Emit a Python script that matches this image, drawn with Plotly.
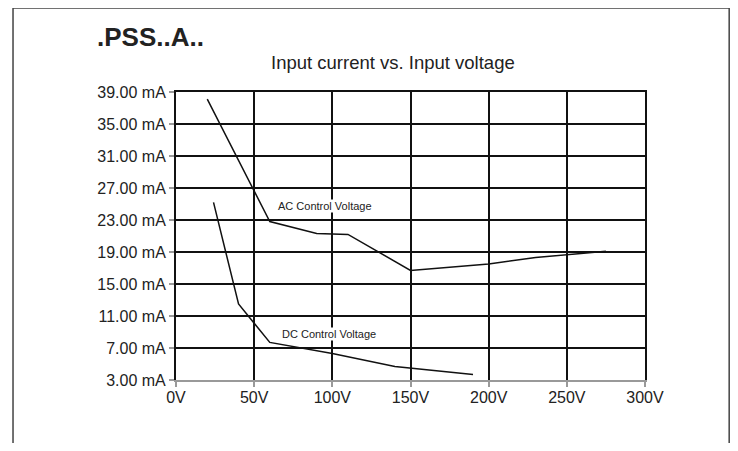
import plotly.graph_objects as go

# AC Control Voltage curve (input voltage V, input current mA)
ac_voltage = [20, 60, 90, 110, 150, 200, 230, 275]
ac_current = [38.1, 22.8, 21.3, 21.2, 16.7, 17.5, 18.3, 19.1]

# DC Control Voltage curve
dc_voltage = [24, 40, 60, 100, 140, 190]
dc_current = [25.2, 12.5, 7.7, 6.3, 4.7, 3.7]

y_ticks = [3, 7, 11, 15, 19, 23, 27, 31, 35, 39]
x_ticks = [0, 50, 100, 150, 200, 250, 300]

title_text = ".PSS..A.."
subtitle_text = "Input current vs. Input voltage"
labels = [("AC Control Voltage", 95, 24.8), ("DC Control Voltage", 98, 8.8)]

REG = "Liberation Sans, Arial, sans-serif"

fig = go.Figure()
fig.add_trace(go.Scatter(x=ac_voltage, y=ac_current, mode="lines",
                         line=dict(color="#111", width=1.5), showlegend=False))
fig.add_trace(go.Scatter(x=dc_voltage, y=dc_current, mode="lines",
                         line=dict(color="#111", width=1.5), showlegend=False))
# invisible trace on the top axis so its frame line is drawn
fig.add_trace(go.Scatter(x=[x_ticks[0], x_ticks[-1]], y=[y_ticks[0], y_ticks[0]], xaxis="x2",
                         mode="lines", line=dict(width=0), hoverinfo="skip", showlegend=False))

for txt, xv, yv in labels:
    fig.add_annotation(x=xv, y=yv, text=txt, showarrow=False,
                       font=dict(family=REG, size=11, color="#222"),
                       bgcolor="white", borderpad=0)

fig.add_annotation(x=0.4627, y=1.104, xref="paper", yref="paper", text=subtitle_text,
                   showarrow=False, xanchor="center", yanchor="middle",
                   font=dict(family=REG, size=18.5, color="#222"))

# outer frame
fig.add_shape(type="rect", xref="paper", yref="paper",
              x0=-0.3475, x1=1.1795, y0=-0.30, y1=1.2917,
              line=dict(color="#444", width=1.5), fillcolor="rgba(0,0,0,0)", layer="below")

fig.update_layout(
    width=722, height=435,
    margin=dict(l=168, r=85, t=84, b=63),
    paper_bgcolor="white", plot_bgcolor="white",
    title=dict(text="<b>" + title_text + "</b>", x=89 / 722, xanchor="left", xref="container",
               y=1 - 29 / 435, yanchor="middle", yref="container",
               font=dict(family=REG, size=26, color="#222")),
    xaxis=dict(range=[0, 300], tickvals=x_ticks, ticktext=[f"{v}V" for v in x_ticks],
               showgrid=True, gridcolor="#111", gridwidth=2, zeroline=False,
               showline=True, linecolor="#999", linewidth=2,
               ticks="outside", ticklen=5, tickcolor="#999", tickwidth=1.5,
               ticklabelstandoff=-3,
               tickfont=dict(family=REG, size=16, color="#222")),
    xaxis2=dict(range=[0, 300], overlaying="x", side="top", showgrid=False, zeroline=False,
                showline=True, linecolor="#111", linewidth=2, showticklabels=False, ticks=""),
    yaxis=dict(range=[3, 39], tickvals=y_ticks, ticktext=[f"{v:.2f} mA" for v in y_ticks],
               showgrid=True, gridcolor="#111", gridwidth=2, zeroline=False,
               showline=True, linecolor="#111", linewidth=2, mirror=True,
               ticks="outside", ticklen=5, tickcolor="#999", tickwidth=1.5,
               tickfont=dict(family=REG, size=16, color="#222")),
)

fig.write_html("out.html")
